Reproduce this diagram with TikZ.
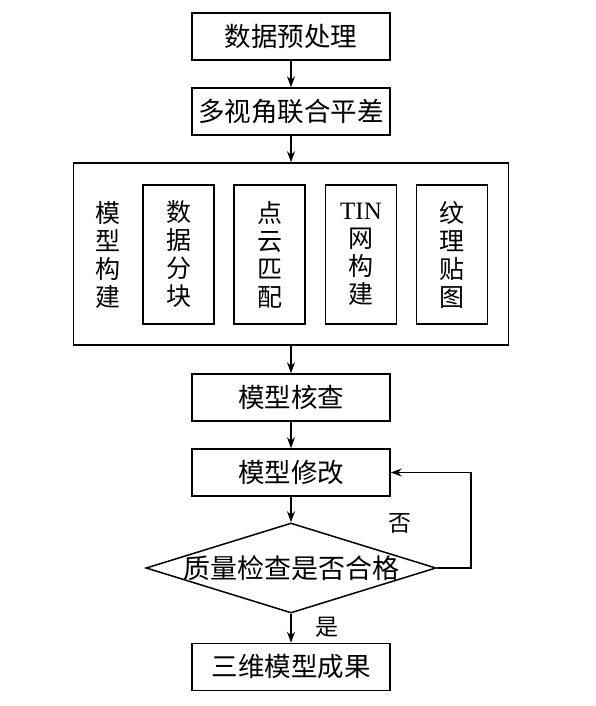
\documentclass[tikz,border=0pt]{standalone}
\usepackage{fontspec}
\setmainfont{Noto Sans CJK SC}
\newfontfamily\latin{Liberation Serif}
\usetikzlibrary{shapes.geometric,arrows.meta}
\begin{document}
\begin{tikzpicture}[x=1pt,y=-1pt, line width=1.5pt,
  box/.style={draw, minimum width=198pt, minimum height=47pt, inner sep=0pt, font=\fontsize{26.5}{28}\selectfont},
  col/.style={draw, minimum width=71pt, minimum height=139pt, inner sep=0pt, align=center, font=\fontsize{25}{28}\selectfont},
  vlabel/.style={inner sep=0pt, align=center, font=\fontsize{25}{28}\selectfont},
  lbl/.style={inner sep=0pt, font=\fontsize{23}{26}\selectfont},
  arr/.style={-{Stealth[length=11pt,width=8pt]}}]
\useasboundingbox (0,0) rectangle (596,706);
\node[box] (b1) at (291,36.5) {数据预处理};
\node[box] (b2) at (291,111.5) {多视角联合平差};
\node[draw, minimum width=435pt, minimum height=182pt, inner sep=0pt] (big) at (291,254) {};
\node[vlabel] (lb) at (108,255) {模\\型\\构\\建};
\node[col] (c1) at (178.5,254.5) {数\\据\\分\\块};
\node[col] (c2) at (269.5,254.5) {点\\云\\匹\\配};
\node[col] (c3) at (361,254.5) {{\latin TIN}\\网\\构\\建};
\node[col] (c4) at (452,254.5) {纹\\理\\贴\\图};
\node[box] (b3) at (291,397.5) {模型核查};
\node[box] (b4) at (291,472.5) {模型修改};
\node[draw, diamond, aspect=3.22, minimum width=290pt, minimum height=90pt, inner sep=0pt] (d) at (291,568) {};
\node[inner sep=0pt, font=\fontsize{27}{28}\selectfont] (dt) at (d.center) {质量检查是否合格};
\node[box] (b5) at (291,667) {三维模型成果};
\coordinate (fb) at (471,568);
\draw[arr] (b1) -- (b2);
\draw[arr] (b2) -- (big);
\draw[arr] (big) -- (b3);
\draw[arr] (b3) -- (b4);
\draw[arr] (b4) -- (d);
\draw[arr] (d) -- (b5);
\draw[arr] (d.east) -- (fb) |- (b4.east);
\node[lbl] (no) at (400,523) {否};
\node[lbl] (yes) at (327,627) {是};
\end{tikzpicture}
\end{document}
